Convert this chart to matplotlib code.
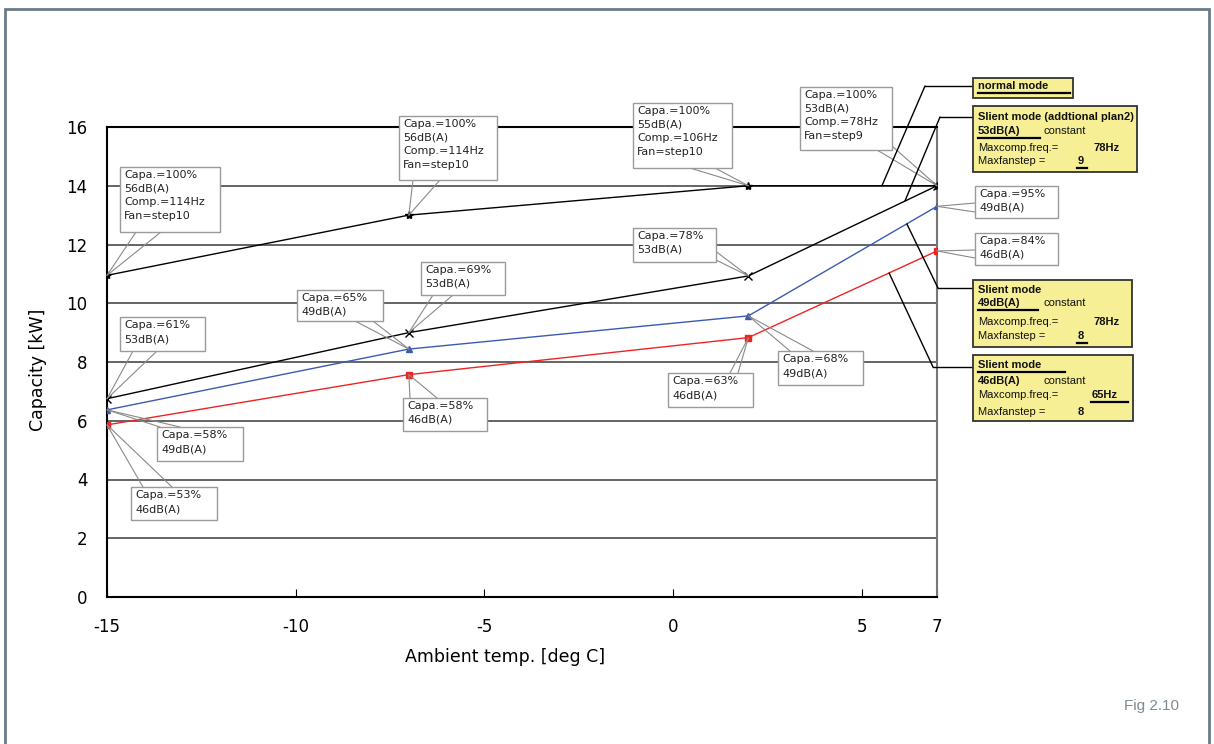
import matplotlib
matplotlib.use("Agg")
import matplotlib.pyplot as plt
from matplotlib.patches import Rectangle, ConnectionPatch
from matplotlib.lines import Line2D
import numpy as np

plt.rcParams["axes.unicode_minus"] = False

W, H = 1214, 744

# data
temps = [-15, -7, 2, 7]
normal_kw = [10.95, 13.0, 14.0, 14.0]
silent53_kw = [6.75, 9.0, 10.93, 14.0]
silent49_kw = [6.37, 8.44, 9.57, 13.3]
silent46_kw = [5.86, 7.57, 8.83, 11.78]

normal_labels = ["Capa.=100%\n56dB(A)\nComp.=114Hz\nFan=step10",
                 "Capa.=100%\n56dB(A)\nComp.=114Hz\nFan=step10",
                 "Capa.=100%\n55dB(A)\nComp.=106Hz\nFan=step10",
                 "Capa.=100%\n53dB(A)\nComp.=78Hz\nFan=step9"]
silent53_labels = ["Capa.=61%\n53dB(A)", "Capa.=69%\n53dB(A)", "Capa.=78%\n53dB(A)", None]
silent49_labels = ["Capa.=58%\n49dB(A)", "Capa.=65%\n49dB(A)", "Capa.=68%\n49dB(A)", "Capa.=95%\n49dB(A)"]
silent46_labels = ["Capa.=53%\n46dB(A)", "Capa.=58%\n46dB(A)", "Capa.=63%\n46dB(A)", "Capa.=84%\n46dB(A)"]

xticks = [-15, -10, -5, 0, 5, 7]
yticks = [0, 2, 4, 6, 8, 10, 12, 14, 16]


def fpt(px, py):
    return (px / W, 1 - py / H)


fig = plt.figure(figsize=(W / 100, H / 100), dpi=100)
ax = fig.add_axes([107 / W, 1 - 597 / H, (937 - 107) / W, (597 - 127) / H])

ax.set_xlim(-15, 7)
ax.set_ylim(0, 16)
ax.set_xticks(xticks)
ax.set_yticks(yticks)
ax.tick_params(axis="x", direction="in", length=6, pad=15, labelsize=12)
ax.tick_params(axis="y", length=0, pad=14, labelsize=12)
ax.yaxis.grid(True, color="#4a4a4a", lw=1.2)
ax.set_axisbelow(True)
for s in ["left", "bottom", "top"]:
    ax.spines[s].set_color("black")
    ax.spines[s].set_linewidth(1.5)
ax.spines["right"].set_color("#777777")
ax.spines["right"].set_linewidth(1.5)

ax.plot(temps, normal_kw, color="black", lw=1, marker="*", ms=6, zorder=3)
ax.plot(temps, silent53_kw, color="black", lw=1, marker="x", ms=6, zorder=3)
ax.plot(temps, silent49_kw, color="#3a5bb0", lw=1, marker="^", ms=5, zorder=3)
ax.plot(temps, silent46_kw, color="#ee2424", lw=1, marker="s", ms=4, zorder=3)

# callout boxes: (left, top, right, bottom) in image pixels + two anchor points
boxes = {
    ("n", 0): ((120, 167, 220, 232), [(136, 232), (161, 232)]),
    ("n", 1): ((399, 116, 497, 180), [(413, 180), (440, 180)]),
    ("n", 2): ((633, 103, 732, 168), [(690, 168), (715, 168)]),
    ("n", 3): ((800, 87, 892, 150), [(877, 150), (892, 146)]),
    ("s53", 0): ((120, 317, 205, 351), [(133, 351), (157, 351)]),
    ("s53", 1): ((421, 262, 505, 295), [(433, 295), (453, 295)]),
    ("s53", 2): ((633, 228, 716, 262), [(714, 250), (716, 260)]),
    ("s49", 0): ((157, 427, 243, 461), [(160, 427), (180, 427)]),
    ("s49", 1): ((297, 290, 383, 321), [(355, 321), (373, 321)]),
    ("s49", 2): ((778, 351, 863, 385), [(790, 351), (813, 351)]),
    ("s49", 3): ((975, 186, 1058, 218), [(975, 203), (975, 212)]),
    ("s46", 0): ((131, 487, 217, 520), [(143, 487), (172, 487)]),
    ("s46", 1): ((403, 398, 487, 431), [(410, 398), (437, 398)]),
    ("s46", 2): ((668, 373, 753, 407), [(730, 373), (738, 373)]),
    ("s46", 3): ((975, 233, 1058, 265), [(975, 250), (975, 258)]),
}

series = {"n": (normal_kw, normal_labels), "s53": (silent53_kw, silent53_labels),
          "s49": (silent49_kw, silent49_labels), "s46": (silent46_kw, silent46_labels)}

for key, vals in series.items():
    kw, labels = vals
    for i, lab in enumerate(labels):
        if lab is None:
            continue
        (l, t, r, b), anchors = boxes[(key, i)]
        for a in anchors:
            cp = ConnectionPatch(xyA=fpt(*a), coordsA="figure fraction",
                                 xyB=(temps[i], kw[i]), coordsB="data", axesB=ax,
                                 color="#8a8a8a", lw=0.8, zorder=4)
            fig.add_artist(cp)
        fig.add_artist(Rectangle(fpt(l, b), (r - l) / W, (b - t) / H,
                                 transform=fig.transFigure, fc="white",
                                 ec="#9a9a9a", lw=1, zorder=5))
        nlines = lab.count("\n") + 1
        fig.text(*fpt(l + 4, t + 3), lab, fontsize=8, va="top", ha="left",
                 linespacing=1.45 if nlines > 2 else 1.5, color="#222222", zorder=6)

# yellow mode boxes with leader lines
yellow = "#f6ef95"
ybox = [(973, 78, 1073, 98), (973, 106, 1137, 172), (973, 280, 1132, 347), (973, 355, 1133, 421)]
for l, t, r, b in ybox:
    fig.add_artist(Rectangle(fpt(l, b), (r - l) / W, (b - t) / H,
                             transform=fig.transFigure, fc=yellow,
                             ec="#333333", lw=1.3, zorder=5))

leaders = [((973, 86), (925, 86), 5.54, normal_kw),
           ((973, 117), (940, 117), 6.15, silent53_kw),
           ((973, 288), (938, 288), 6.2, silent49_kw),
           ((973, 367), (933, 367), 5.73, silent46_kw)]
for p0, p1, xe, kw in leaders:
    fig.add_artist(Line2D([p0[0] / W, p1[0] / W], [1 - p0[1] / H, 1 - p1[1] / H],
                          transform=fig.transFigure, color="black", lw=1, zorder=4))
    fig.add_artist(ConnectionPatch(xyA=fpt(*p1), coordsA="figure fraction",
                                   xyB=(xe, np.interp(xe, temps, kw)), coordsB="data", axesB=ax,
                                   color="black", lw=1, zorder=4))

yfont = dict(family="Liberation Sans", fontsize=8, va="center", ha="left", zorder=6, color="#111111")


def ytext(px, py, s, bold=False):
    fig.text(*fpt(px, py), s, fontweight="bold" if bold else "normal", **yfont)


def uline(x0, x1, py):
    fig.add_artist(Line2D([x0 / W, x1 / W], [1 - py / H, 1 - py / H],
                          transform=fig.transFigure, color="black", lw=1.6, zorder=6))


ytext(978, 86, "normal mode", True)
uline(978, 1070, 93)

ytext(978, 117, "Slient mode (addtional plan2)", True)
ytext(978, 131, "53dB(A)", True)
uline(978, 1040, 138)
ytext(1043, 131, "constant")
ytext(978, 148, "Maxcomp.freq.=")
ytext(1093, 148, "78Hz", True)
ytext(978, 161, "Maxfanstep =")
ytext(1078, 161, "9", True)
uline(1077, 1087, 168)

ytext(978, 290, "Slient mode", True)
ytext(978, 303, "49dB(A)", True)
uline(978, 1038, 310)
ytext(1043, 303, "constant")
ytext(978, 322, "Maxcomp.freq.=")
ytext(1093, 322, "78Hz", True)
ytext(978, 336, "Maxfanstep =")
ytext(1078, 336, "8", True)
uline(1077, 1087, 343)

ytext(978, 365, "Slient mode", True)
uline(978, 1065, 372)
ytext(978, 381, "46dB(A)", True)
ytext(1043, 381, "constant")
ytext(978, 395, "Maxcomp.freq.=")
ytext(1092, 395, "65Hz", True)
uline(1091, 1128, 402)
ytext(978, 412, "Maxfanstep =")
ytext(1078, 412, "8", True)

# axis labels
fig.text(*fpt(505, 657), "Ambient temp. [deg C]", fontsize=12.5, ha="center", va="center")
fig.text(*fpt(38, 370), "Capacity [kW]", fontsize=12.5, ha="center", va="center", rotation=90)

# outer frame and figure number
fig.add_artist(Rectangle(fpt(5, 770), (1209 - 5) / W, (770 - 9) / H,
                         transform=fig.transFigure, fc="none", ec="#6b7b86", lw=2, zorder=1))
fig.text(*fpt(1152, 706), "Fig 2.10", family="Liberation Sans", fontsize=11,
         color="#7e8a94", ha="center", va="center")

fig.savefig("out.png", dpi=100)
